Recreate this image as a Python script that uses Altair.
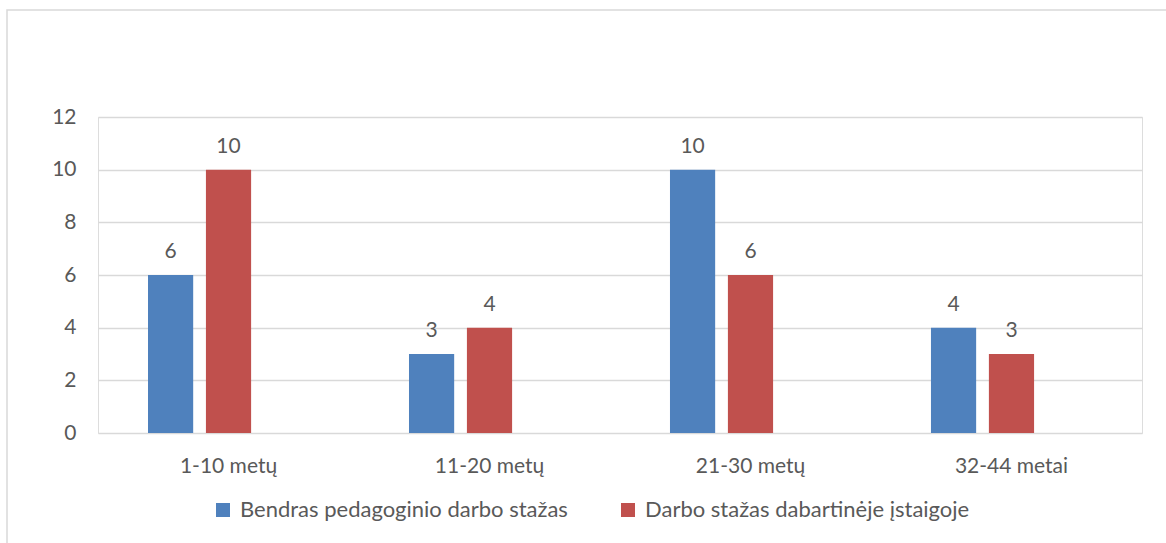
import altair as alt
import pandas as pd

categories = ["1-10 metų", "11-20 metų", "21-30 metų", "32-44 metai"]
series_names = ["Bendras pedagoginio darbo stažas", "Darbo stažas dabartinėje įstaigoje"]
values_total = [6, 3, 10, 4]
values_current = [10, 4, 6, 3]
colors = ["#4f81bd", "#c0504d"]
y_ticks = [0, 2, 4, 6, 8, 10, 12]

rows = []
for c, a, b in zip(categories, values_total, values_current):
    rows.append({"cat": c, "series": series_names[0], "value": a})
    rows.append({"cat": c, "series": series_names[1], "value": b})
df = pd.DataFrame(rows)

FONT = "Lato"
FS = 21
GREY = "#595959"
offset_domain = series_names + ["(empty)"]

x_enc = alt.X("cat:N", sort=categories, title=None,
              scale=alt.Scale(paddingInner=0.383, paddingOuter=0.1916),
              axis=alt.Axis(labelAngle=0, ticks=False, domain=False, labelPadding=22,
                            labelFontSize=FS, labelColor=GREY, labelFont=FONT))
xoff = alt.XOffset("series:N", scale=alt.Scale(domain=offset_domain, paddingInner=0.22, paddingOuter=0))

bars = alt.Chart(df).mark_bar().encode(
    x=x_enc,
    xOffset=xoff,
    y=alt.Y("value:Q", title=None,
            scale=alt.Scale(domain=[0, 12], nice=False),
            axis=alt.Axis(values=y_ticks, ticks=False, domain=False, grid=True,
                          gridColor="#d9d9d9", gridWidth=1.3, labelPadding=22,
                          labelFontSize=FS, labelColor=GREY, labelFont=FONT)),
    color=alt.Color("series:N", scale=alt.Scale(domain=series_names, range=colors),
                    legend=alt.Legend(title=None, orient="none", legendX=114, legendY=382,
                                      direction="horizontal", columns=2, symbolType="square",
                                      symbolSize=196, symbolStrokeWidth=0, columnPadding=49,
                                      labelFontSize=22, labelColor=GREY, labelFont=FONT,
                                      labelOffset=6, labelLimit=0)),
)

labels = alt.Chart(df).mark_text(baseline="bottom", dy=-13, fontSize=FS, color=GREY, font=FONT).encode(
    x=alt.X("cat:N", sort=categories),
    xOffset=xoff,
    y="value:Q",
    text="value:Q",
)

border = alt.Chart(pd.DataFrame({"b": [0]})).mark_rect(fill=None, stroke="#d9d9d9", strokeWidth=1.5).encode(
    x=alt.value(-91), x2=alt.value(1100), y=alt.value(-107), y2=alt.value(500)
)

chart = alt.layer(bars, labels, border).properties(
    width=1044, height=316,
    autosize=alt.AutoSizeParams(type="none"),
    padding={"left": 98, "top": 117, "right": 24, "bottom": 110},
).configure_view(stroke=None).configure(background="white")

chart.save("out.html", embed_options={"renderer": "svg", "actions": False})
